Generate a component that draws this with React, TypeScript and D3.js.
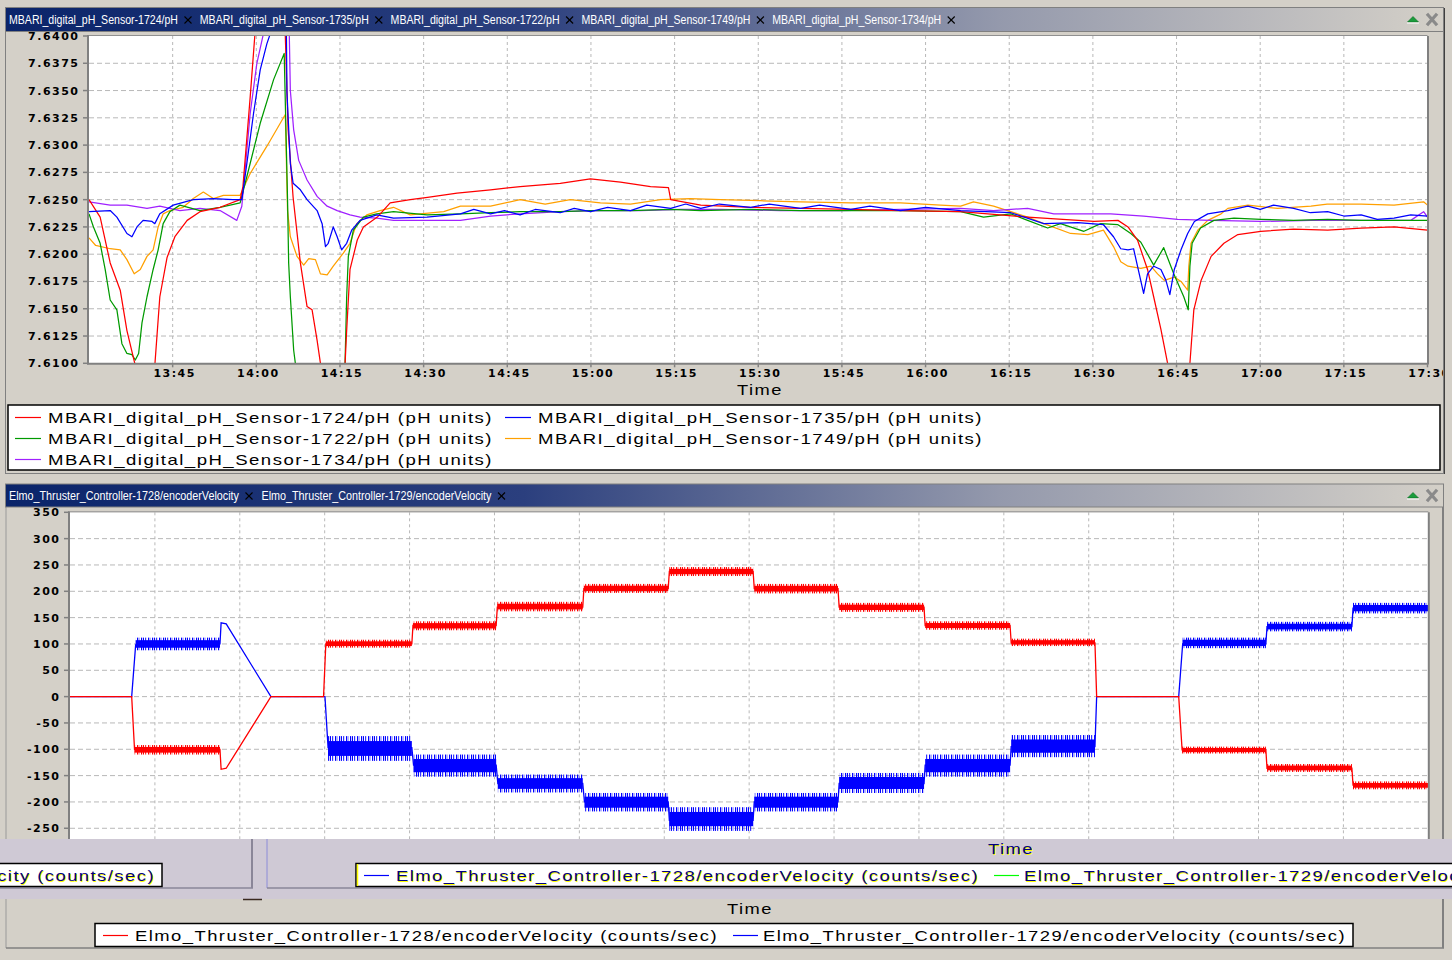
import React from 'react';
import * as d3 from 'd3';

// ---------------------------------------------------------------- data
const START = '13:30'; // left edge of both time axes
const SPAN = 240; // minutes on screen

const phTabs = [
  'MBARI_digital_pH_Sensor-1724/pH',
  'MBARI_digital_pH_Sensor-1735/pH',
  'MBARI_digital_pH_Sensor-1722/pH',
  'MBARI_digital_pH_Sensor-1749/pH',
  'MBARI_digital_pH_Sensor-1734/pH',
];
const velTabs = [
  'Elmo_Thruster_Controller-1728/encoderVelocity',
  'Elmo_Thruster_Controller-1729/encoderVelocity',
];

const phTicks = [7.61, 7.6125, 7.615, 7.6175, 7.62, 7.6225, 7.625, 7.6275, 7.63, 7.6325, 7.635, 7.6375, 7.64];
const velTicks = [-250, -200, -150, -100, -50, 0, 50, 100, 150, 200, 250, 300, 350];

// [minutes after START, pH]
const ph1724: [number, number][] = [
  [0, 7.625], [2, 7.6234], [3.8, 7.6192], [5.6, 7.6167], [6.8, 7.613], [8.3, 7.6098], [10, 7.607], [11.8, 7.6098],
  [12.7, 7.6161], [14, 7.6197], [15.4, 7.6216], [17.6, 7.6231], [19.9, 7.6239], [23.5, 7.6243], [27.1, 7.625],
  [27.6, 7.6262], [28.9, 7.6344], [29.8, 7.6405], [32.5, 7.645], [35.2, 7.64], [35.7, 7.6314], [36.6, 7.6252],
  [37.9, 7.6192], [39.1, 7.6152], [40, 7.6149], [40.9, 7.6121], [41.5, 7.61], [43.6, 7.606], [45.9, 7.6098],
  [46.2, 7.613], [46.8, 7.6186], [48.1, 7.6213], [49.2, 7.6225], [51.7, 7.6234], [54, 7.6247], [57.6, 7.625],
  [60.7, 7.6252], [66, 7.6256], [72, 7.6259], [77.3, 7.6262], [84.5, 7.6265], [89.9, 7.6269], [95.3, 7.6266],
  [100.7, 7.6262], [103.9, 7.6261], [104.3, 7.625], [109.7, 7.6245], [118.6, 7.6243], [127.6, 7.6242],
  [136.6, 7.6241], [145.5, 7.624], [156.3, 7.6239], [168.3, 7.6234], [180.2, 7.623], [184.5, 7.6231],
  [186.3, 7.6225], [188, 7.6213], [189.8, 7.6186], [190.9, 7.6161], [192.2, 7.6131], [193.4, 7.61], [195.4, 7.606],
  [197.4, 7.61], [198.1, 7.6149], [199.4, 7.6176], [201.2, 7.6198], [203.5, 7.621], [206, 7.6218], [210.1, 7.6221],
  [216, 7.6223], [222.1, 7.6222], [228.1, 7.6224], [234, 7.6225], [240, 7.6222],
];
const ph1735: [number, number][] = [
  [0, 7.6239], [3.8, 7.624], [5, 7.6234], [6.8, 7.6219], [7.7, 7.6216], [8.6, 7.6225], [9.7, 7.6231], [11.3, 7.623],
  [11.8, 7.6228], [12.7, 7.6237], [15.1, 7.6245], [18.7, 7.625], [22.3, 7.6251], [25.8, 7.625], [27.4, 7.625],
  [28.3, 7.6283], [29.5, 7.6329], [30.7, 7.6369], [31.9, 7.6393], [32.7, 7.6405], [33.9, 7.642], [35.4, 7.64],
  [35.5, 7.6348], [36.1, 7.6283], [36.6, 7.6265], [37.9, 7.6259], [39.1, 7.625], [40.9, 7.624], [41.8, 7.6228],
  [42.4, 7.6207], [42.9, 7.621], [43.8, 7.6225], [44.5, 7.6216], [45.3, 7.6204], [46.2, 7.621], [47.1, 7.6222],
  [48.6, 7.6231], [51.6, 7.6236], [54.6, 7.6233], [60.6, 7.6234], [66.6, 7.6237], [69, 7.6241], [72, 7.6237],
  [74.5, 7.624], [77.3, 7.6236], [80, 7.6241], [84.5, 7.6238], [87, 7.6242], [89.9, 7.6239], [93, 7.6243],
  [97.1, 7.624], [100, 7.6245], [104.3, 7.6242], [107, 7.6246], [109.7, 7.6242], [113, 7.6246], [118.6, 7.6243],
  [122, 7.6246], [127.6, 7.6242], [131, 7.6245], [136.6, 7.6241], [140, 7.6244], [145.5, 7.624], [150, 7.6243],
  [156.3, 7.624], [165.3, 7.6238], [171.2, 7.6228],
  [177.3, 7.6229], [181.9, 7.6227], [183.7, 7.6216], [185, 7.6205], [186.3, 7.6204], [187.3, 7.6205], [188, 7.6189],
  [189.1, 7.6164], [189.8, 7.6182], [190.9, 7.6189], [192.2, 7.6186], [193.1, 7.6176], [193.8, 7.6163],
  [194.6, 7.6186], [195.8, 7.6204], [197, 7.6219], [198.2, 7.623], [200.6, 7.6237], [204.2, 7.624], [207.8, 7.6244],
  [210, 7.6241], [212.4, 7.6245], [216, 7.6242], [219, 7.6238], [222.1, 7.6239], [225, 7.6235], [228.1, 7.6236],
  [231, 7.6232], [234, 7.6233], [237, 7.6236], [240, 7.6235],
];
const ph1722: [number, number][] = [
  [0, 7.6237], [0.8, 7.6225], [2, 7.621], [2.9, 7.6186], [3.8, 7.6158], [5, 7.6149], [5.9, 7.6118], [6.8, 7.6109],
  [7.7, 7.6108], [8.3, 7.6103], [8.9, 7.6109], [9.5, 7.6137], [10.4, 7.6161], [11.5, 7.6186], [12.4, 7.6204],
  [13.3, 7.6228], [14.5, 7.6239], [16.3, 7.6245], [19.9, 7.624], [23.5, 7.6243], [27.1, 7.6247], [28.3, 7.6271],
  [30.7, 7.632], [33.1, 7.636], [35, 7.6384], [35.6, 7.625], [35.8, 7.6192], [36.1, 7.6161], [36.7, 7.6112],
  [37, 7.61], [41.4, 7.606], [45.9, 7.6098], [46.2, 7.6161], [46.5, 7.6198], [47.4, 7.6222], [49.2, 7.6234],
  [51.6, 7.6237], [54.6, 7.6239], [60.6, 7.6236], [66.6, 7.6237], [72, 7.6238], [77.3, 7.6239], [84.5, 7.6239],
  [89.9, 7.624], [97.1, 7.624], [104.3, 7.6241], [109.7, 7.624], [118.6, 7.6241], [127.6, 7.624], [136.6, 7.624],
  [145.5, 7.624], [156.3, 7.6239], [160.4, 7.6234], [165.3, 7.6237], [168.3, 7.6231], [171.9, 7.6224],
  [174.2, 7.6228], [178.4, 7.6221], [181.4, 7.6228], [184.5, 7.6227], [186.8, 7.6219], [188.6, 7.6211],
  [190.9, 7.619], [192.7, 7.6206], [194.5, 7.6182], [196.3, 7.6161], [197.1, 7.6149], [197.4, 7.6189],
  [197.8, 7.621], [199.3, 7.6224], [201.7, 7.6231], [205.3, 7.6233], [210.1, 7.6232], [216, 7.6231],
  [222.1, 7.6232], [228.1, 7.6231], [234, 7.6231], [240, 7.6231],
];
const ph1749: [number, number][] = [
  [0, 7.6215], [1.2, 7.6208], [3.8, 7.6205], [5.6, 7.6204], [6.8, 7.6195], [8.1, 7.6182], [9.2, 7.6186],
  [10.4, 7.6198], [11.5, 7.6204], [12.4, 7.6225], [13.3, 7.6237], [14.5, 7.624], [16.9, 7.6243], [18.7, 7.6251],
  [20.5, 7.6257], [22.3, 7.6251], [24.1, 7.6254], [27.1, 7.6254], [28.9, 7.6274], [31.9, 7.6299], [35.2, 7.6328],
  [35.6, 7.624], [36.1, 7.6216], [37.3, 7.6198], [38.5, 7.619], [39.4, 7.6196], [40.6, 7.6195], [41.5, 7.6182],
  [42.7, 7.6181], [43.8, 7.6189], [45.6, 7.6201], [46.8, 7.621], [48, 7.6228], [49.8, 7.6236], [52.2, 7.624],
  [54.6, 7.6243], [57.6, 7.6236], [63.6, 7.6239], [66.6, 7.6244], [72, 7.6244], [77.3, 7.625], [81.8, 7.6246],
  [86.3, 7.625], [91.7, 7.6247], [97.1, 7.6246], [102.5, 7.625], [107.8, 7.6251], [113.2, 7.625], [120.4, 7.6249],
  [127.6, 7.6248], [136.6, 7.6247], [145.5, 7.6247], [152.7, 7.6245], [156.3, 7.6244], [158.6, 7.6248],
  [162.2, 7.6244], [168.3, 7.6234], [171.2, 7.6228], [176, 7.6219], [179.1, 7.6218], [181.9, 7.6222],
  [183.7, 7.6207], [185, 7.6193], [186.3, 7.6189], [188.6, 7.6187], [190.4, 7.6189], [191.6, 7.6182],
  [192.8, 7.6176], [194.6, 7.6179], [195.8, 7.6175], [197, 7.6167], [197.2, 7.6189], [197.6, 7.621],
  [198.8, 7.6222], [200.6, 7.6231], [203, 7.6237], [204.2, 7.6242], [207.8, 7.6245], [213.1, 7.6242],
  [219.1, 7.6244], [222, 7.6246], [228.1, 7.6246], [234, 7.6245], [239.3, 7.6248], [240, 7.6245],
];
const ph1734: [number, number][] = [
  [0, 7.6248], [3.8, 7.6245], [6.8, 7.6245], [10.4, 7.6242], [12.7, 7.6244], [16.3, 7.624], [19.9, 7.6242],
  [23.5, 7.624], [26.5, 7.6231], [27.4, 7.6244], [28.9, 7.6329], [30.1, 7.6375], [31.4, 7.6405], [33.6, 7.644],
  [35.9, 7.6405], [36.1, 7.635], [36.7, 7.6314], [37.6, 7.6286], [39.1, 7.6268], [40.9, 7.6253], [42.7, 7.6244],
  [44.5, 7.624], [46.8, 7.6236], [48.6, 7.6234], [51.6, 7.6233], [54.6, 7.6231], [60.6, 7.6231], [66.6, 7.6231],
  [72, 7.6235], [77.3, 7.6237], [84.5, 7.6239], [91.7, 7.624], [98.9, 7.624], [106.1, 7.6241], [113.2, 7.6241],
  [124, 7.624], [134.8, 7.624], [145.5, 7.6241], [156.3, 7.6242], [162.2, 7.624], [168.3, 7.6242], [173, 7.6237],
  [179.1, 7.6237], [183.2, 7.6237], [189.1, 7.6235], [195.2, 7.6232], [201.2, 7.6231], [210.1, 7.623],
  [219.1, 7.6231], [228.1, 7.6231], [237, 7.6231], [239.3, 7.6239], [240, 7.6234],
];

// encoder velocity, [minutes after START, counts/sec] (centre line)
const vel1728: [number, number][] = [
  [0, 0], [10.9, 0], [11.4, -100], [26.5, -100], [26.7, -138], [27.6, -136], [35.5, 0], [44.8, 0], [45.2, 100],
  [60.4, 100], [60.6, 135], [75.3, 135], [75.5, 170], [90.6, 170], [90.8, 205], [105.7, 205], [105.9, 238],
  [120.7, 238], [120.9, 205], [135.7, 205], [135.9, 170], [150.9, 170], [151.1, 135], [166.1, 135], [166.3, 102],
  [181.1, 102], [181.4, 0], [195.9, 0], [196.5, -101], [211.3, -101], [211.5, -136], [226.5, -136], [226.7, -168],
  [240, -168],
];
const vel1729: [number, number][] = [
  [0, 0], [10.9, 0], [11.6, 98], [26.5, 100], [26.7, 140], [27.6, 138], [35.5, 0], [45.05, 0], [45.6, -97],
  [60.4, -97], [60.7, -130], [75.3, -130], [75.6, -165], [90.6, -165], [90.9, -200], [105.7, -200], [105.9, -235],
  [120.7, -235], [120.9, -200], [135.7, -200], [135.9, -165], [150.9, -165], [151.1, -130], [166.1, -130],
  [166.3, -95], [181.1, -95], [181.4, 0], [195.9, 0], [196.6, 100], [211.3, 100], [211.5, 133], [226.5, 133],
  [226.7, 168], [240, 168],
];
// noise envelope per plateau: [from, to, low, high]
const vel1728Noise: [number, number, number, number][] = [
  [11.4, 26.5, -110, -92], [45.2, 60.4, 93, 108], [60.6, 75.3, 126, 143], [75.5, 90.6, 162, 180],
  [90.8, 105.7, 197, 214], [105.9, 120.7, 229, 246], [120.9, 135.7, 196, 214], [135.9, 150.9, 161, 178],
  [151.1, 166.1, 127, 143], [166.3, 181.1, 96, 110], [196.5, 211.3, -108, -95], [211.5, 226.5, -143, -128],
  [226.7, 240, -176, -161],
];
const vel1729Noise: [number, number, number, number][] = [
  [11.6, 26.5, 88, 112], [45.6, 60.4, -122, -75], [60.7, 75.3, -152, -110], [75.6, 90.6, -182, -148],
  [90.9, 105.7, -218, -183], [105.9, 120.7, -255, -210], [120.9, 135.7, -218, -183], [135.9, 150.9, -183, -145],
  [151.1, 166.1, -152, -110], [166.3, 181.1, -115, -73], [196.6, 211.3, 92, 112], [211.5, 226.5, 124, 142],
  [226.7, 240, 158, 178],
];

const phSeries = [
  { name: 'MBARI_digital_pH_Sensor-1724/pH (pH units)', color: '#ff0000', data: ph1724 },
  { name: 'MBARI_digital_pH_Sensor-1735/pH (pH units)', color: '#0000ff', data: ph1735 },
  { name: 'MBARI_digital_pH_Sensor-1722/pH (pH units)', color: '#009a00', data: ph1722 },
  { name: 'MBARI_digital_pH_Sensor-1749/pH (pH units)', color: '#ffa000', data: ph1749 },
  { name: 'MBARI_digital_pH_Sensor-1734/pH (pH units)', color: '#a020ff', data: ph1734 },
];
const phDrawOrder = [3, 4, 2, 0, 1];

const velSeries = [
  { key: 'r', name: 'Elmo_Thruster_Controller-1728/encoderVelocity (counts/sec)', color: '#ff0000', ghost: '#0000ff', data: vel1728, noise: vel1728Noise },
  { key: 'b', name: 'Elmo_Thruster_Controller-1729/encoderVelocity (counts/sec)', color: '#0000ff', ghost: '#00ff00', data: vel1729, noise: vel1729Noise },
];

// ---------------------------------------------------------------- helpers
const BG = '#d4d0c8';
const AXIS_FONT = { fontFamily: 'DejaVu Sans, Verdana, sans-serif', fontWeight: 700, fontSize: 11, letterSpacing: 1.5 };
const TEXT_FONT = 'Liberation Sans, Arial, sans-serif';

const [h0, m0] = START.split(':').map(Number);
const base = new Date(2000, 0, 1, h0, m0);
const at = (m: number) => new Date(base.getTime() + m * 60000);

function Cross({ cx, cy }: { cx: number; cy: number }) {
  return (
    <g stroke="#000" strokeWidth={1.1}>
      <line x1={cx - 3.5} y1={cy - 3.5} x2={cx + 3.5} y2={cy + 3.5} />
      <line x1={cx - 3.5} y1={cy + 3.5} x2={cx + 3.5} y2={cy - 3.5} />
    </g>
  );
}

function TabBar({ y, h, tabs, textW, pitch }: { y: number; h: number; tabs: string[]; textW: number; pitch: number }) {
  const cy = y + h / 2;
  return (
    <g>
      <rect x={5.5} y={y} width={1438} height={h} fill="url(#tabGrad)" stroke="#808080" />
      {tabs.map((t, i) => {
        const x = 9 + i * pitch;
        return (
          <g key={t}>
            <text x={x} y={cy + 4} fill="#fff" fontSize={12} fontFamily={TEXT_FONT} textLength={textW} lengthAdjust="spacingAndGlyphs">
              {t}
            </text>
            <Cross cx={x + textW + 10} cy={cy + 0.5} />
          </g>
        );
      })}
      <polygon points={`1407.5,${cy + 2.5} 1413,${cy - 3} 1418.5,${cy + 2.5}`} fill="#1b9c3c" stroke="#0a6a20" strokeWidth={0.6} />
      <line x1={1407} x2={1419} y1={cy + 3.5} y2={cy + 3.5} stroke="#fff" />
      <g stroke="#8a8a8a" strokeWidth={3.2} strokeLinecap="square">
        <line x1={1428} y1={cy - 4.5} x2={1436} y2={cy + 4.5} />
        <line x1={1428} y1={cy + 4.5} x2={1436} y2={cy - 4.5} />
      </g>
    </g>
  );
}

function WideText(props: { x: number; y: number; len: number; fill: string; size?: number; bold?: boolean; children: string }) {
  return (
    <text
      x={props.x}
      y={props.y}
      fill={props.fill}
      fontFamily={TEXT_FONT}
      fontSize={props.size || 15}
      fontWeight={props.bold ? 700 : 400}
      letterSpacing={1.2}
      textLength={props.len}
      lengthAdjust="spacingAndGlyphs"
    >
      {props.children}
    </text>
  );
}

// lower part of the thruster panel ("Time" + legend). Drawn once for real and
// twice more as the screen-glitch ghosts that sit over the plot bottom.
function VelFooter({ ghost }: { ghost: boolean }) {
  const ink = ghost ? '#000080' : '#000';
  const shadow = (el: (dx: number, dy: number, fill: string) => React.ReactNode) =>
    ghost ? (
      <>
        {el(1, 1, '#ffff00')}
        {el(0, 0, ink)}
      </>
    ) : (
      el(0, 0, ink)
    );
  return (
    <g>
      <line x1={6} x2={6} y1={838} y2={948} stroke={ghost ? '#8c8cd8' : '#9a9a9a'} />
      <line x1={1443} x2={1443} y1={838} y2={948} stroke={ghost ? '#8a8698' : '#808080'} strokeWidth={2} />
      <line x1={6} x2={1444} y1={948} y2={948} stroke={ghost ? '#8a8698' : '#808080'} strokeWidth={1.5} />
      {shadow((dx, dy, fill) => (
        <WideText x={727 + dx} y={913.5 + dy} len={46} fill={fill} size={14.5}>
          Time
        </WideText>
      ))}
      <rect x={95} y={923.5} width={1258} height={23} fill="#fff" stroke="#000" strokeWidth={1.5} />
      {ghost && <line x1={96.5} x2={96.5} y1={924} y2={946} stroke="#ffff00" strokeWidth={1.5} />}
      {velSeries.map((s, i) => {
        const lx = i === 0 ? 103 : 733;
        const tx = i === 0 ? 135 : 763;
        return (
          <g key={s.name}>
            <line x1={lx} x2={lx + 25} y1={935.5} y2={935.5} stroke={ghost ? s.ghost : s.color} strokeWidth={1.2} />
            {shadow((dx, dy, fill) => (
              <WideText x={tx + dx} y={941 + dy} len={583} fill={fill}>
                {s.name}
              </WideText>
            ))}
          </g>
        );
      })}
    </g>
  );
}

export default function App() {
  // pH chart scales
  const xTop = d3.scaleTime().domain([at(0), at(SPAN)]).range([89, 1427.5]);
  const yTop = d3.scaleLinear().domain([7.61, 7.64]).range([363.3, 36]);
  // velocity chart scales (bottom of the frame is hidden by the glitch)
  const xBot = d3.scaleTime().domain([at(0), at(SPAN)]).range([70, 1428.3]);
  const yBot = d3.scaleLinear().domain([-300, 350]).range([854.6, 512.3]);

  const timeTicks = xTop.ticks(d3.timeMinute.every(15)!);
  const timeFmt = d3.timeFormat('%H:%M');
  const phLine = d3
    .line<[number, number]>()
    .x((d) => xTop(at(d[0])))
    .y((d) => yTop(d[1]));
  const velLine = d3
    .line<[number, number]>()
    .x((d) => xBot(at(d[0])))
    .y((d) => yBot(d[1]));

  const [tx0, tx1] = xTop.range();
  const [ty1, ty0] = yTop.range();
  const [bx0, bx1] = xBot.range();
  const by0 = yBot(350);
  const by1 = yBot(-300);

  return (
    <div style={{ position: 'absolute', left: 0, top: 0 }}>
      <svg width={1452} height={960} viewBox="0 0 1452 960" style={{ display: 'block', background: BG }}>
        <defs>
          <linearGradient id="tabGrad" gradientUnits="userSpaceOnUse" x1={5} x2={1444} y1={0} y2={0}>
            <stop offset="0" stopColor="#0a246a" />
            <stop offset="0.36" stopColor="#2b3f7e" />
            <stop offset="0.69" stopColor="#9499ac" />
            <stop offset="1" stopColor="#d4d0c8" />
          </linearGradient>
          {/* ragged sample spikes along the edge of each noisy plateau */}
          {velSeries.map((s) => (
            <pattern key={s.key} id={`spikes-${s.key}`} width={11} height={40} patternUnits="userSpaceOnUse">
              <rect x={0} y={0} width={1} height={40} fill={s.color} />
              <rect x={2} y={0} width={1.2} height={40} fill={s.color} opacity={0.8} />
              <rect x={5} y={0} width={1} height={40} fill={s.color} />
              <rect x={6.5} y={0} width={1} height={40} fill={s.color} opacity={0.6} />
              <rect x={9} y={0} width={1.2} height={40} fill={s.color} />
            </pattern>
          ))}
          <clipPath id="topPanel">
            <rect x={0} y={0} width={1443} height={480} />
          </clipPath>
          <clipPath id="topPlot">
            <rect x={tx0} y={ty0} width={tx1 - tx0} height={ty1 - ty0} />
          </clipPath>
          <clipPath id="botPlot">
            <rect x={bx0} y={by0} width={bx1 - bx0} height={by1 - by0} />
          </clipPath>
          <clipPath id="glitch">
            <rect x={0} y={839} width={1452} height={60} />
          </clipPath>
          <clipPath id="below">
            <rect x={0} y={899} width={1452} height={61} />
          </clipPath>
        </defs>

        {/* ---------------- pH panel ---------------- */}
        <rect x={5.5} y={7.5} width={1438} height={466} fill={BG} stroke="#808080" />
        <line x1={1444.5} x2={1444.5} y1={8} y2={474} stroke="#404040" />
        <TabBar y={7.5} h={24} tabs={phTabs} textW={169} pitch={190.8} />

        <g clipPath="url(#topPanel)">
          <rect x={tx0} y={ty0} width={tx1 - tx0} height={ty1 - ty0} fill="#fff" />
          {phTicks.slice(1, -1).map((v) => (
            <line key={v} x1={tx0} x2={tx1} y1={yTop(v)} y2={yTop(v)} stroke="#b8b8b8" strokeDasharray="5 3" />
          ))}
          {timeTicks.slice(1, -1).map((t) => (
            <line key={+t} x1={xTop(t)} x2={xTop(t)} y1={ty0} y2={ty1} stroke="#b8b8b8" strokeDasharray="3 3" />
          ))}
          <g clipPath="url(#topPlot)" fill="none" strokeWidth={1.25} strokeLinejoin="round">
            {phDrawOrder.map((i) => (
              <path key={phSeries[i].name} d={phLine(phSeries[i].data) || ''} stroke={phSeries[i].color} />
            ))}
          </g>
          {/* frame + ticks */}
          <line x1={tx0} x2={tx1} y1={ty0 - 0.5} y2={ty0 - 0.5} stroke="#909090" />
          <line x1={tx1 + 0.5} x2={tx1 + 0.5} y1={ty0} y2={ty1 + 1} stroke="#808080" strokeWidth={2} />
          <line x1={tx0 - 1} x2={tx0 - 1} y1={ty0 - 1} y2={ty1 + 1} stroke="#808080" strokeWidth={2} />
          <line x1={tx0 - 2} x2={tx1 + 1} y1={ty1 + 0.5} y2={ty1 + 0.5} stroke="#808080" strokeWidth={2} />
          {phTicks.map((v) => (
            <g key={v}>
              <line x1={tx0 - 6} x2={tx0 - 1} y1={yTop(v)} y2={yTop(v)} stroke="#808080" strokeWidth={1.5} />
              <text x={79.5} y={yTop(v) + 4} textAnchor="end" fill="#000" {...AXIS_FONT}>
                {v.toFixed(4)}
              </text>
            </g>
          ))}
          {timeTicks.slice(1).map((t) => (
            <g key={+t}>
              <line x1={xTop(t)} x2={xTop(t)} y1={ty1 + 1} y2={ty1 + 4} stroke="#808080" strokeWidth={1.5} />
              <text x={xTop(t) + 2} y={377} textAnchor="middle" fill="#000" {...AXIS_FONT}>
                {timeFmt(t)}
              </text>
            </g>
          ))}
          <WideText x={737} y={395} len={46} fill="#000" size={14.5}>
            Time
          </WideText>
        </g>

        {/* pH legend */}
        <rect x={8} y={405} width={1432} height={65} fill="#fff" stroke="#000" strokeWidth={1.5} />
        {phSeries.map((s, i) => {
          const col = i % 2;
          const row = Math.floor(i / 2);
          const y = 417.5 + row * 21;
          const lx = col === 0 ? 15 : 505;
          const tx = col === 0 ? 48 : 538;
          return (
            <g key={s.name}>
              <line x1={lx} x2={lx + 26} y1={y} y2={y} stroke={s.color} strokeWidth={1.2} />
              <WideText x={tx} y={y + 5.5} len={445} fill="#000">
                {s.name}
              </WideText>
            </g>
          );
        })}

        {/* ---------------- velocity panel ---------------- */}
        <line x1={6} x2={6} y1={484} y2={840} stroke="#9a9a9a" />
        <line x1={1443} x2={1443} y1={484} y2={840} stroke="#808080" strokeWidth={2} />
        <TabBar y={484} h={23} tabs={velTabs} textW={230} pitch={252.5} />

        <rect x={bx0} y={by0} width={bx1 - bx0} height={by1 - by0} fill="#fff" />
        {velTicks.slice(0, -1).map((v) => (
          <line key={v} x1={bx0} x2={bx1} y1={yBot(v)} y2={yBot(v)} stroke="#b8b8b8" strokeDasharray="5 3" />
        ))}
        {xBot
          .ticks(d3.timeMinute.every(15)!)
          .slice(1, -1)
          .map((t) => (
            <line key={+t} x1={xBot(t)} x2={xBot(t)} y1={by0} y2={by1} stroke="#b8b8b8" strokeDasharray="3 3" />
          ))}
        <g clipPath="url(#botPlot)">
          {[1, 0].map((i) => {
            const s = velSeries[i];
            return (
              <g key={s.name}>
                {s.noise.map(([t0, t1, lo, hi]) => {
                  const x0 = xBot(at(t0));
                  const x1 = xBot(at(t1));
                  const yh = yBot(hi);
                  const yl = yBot(lo);
                  const pad = (yl - yh) * 0.2;
                  return (
                    <g key={t0}>
                      <rect x={x0} y={yh} width={x1 - x0} height={yl - yh} fill={`url(#spikes-${s.key})`} />
                      <rect x={x0} y={yh + pad} width={x1 - x0} height={yl - yh - 2 * pad} fill={s.color} />
                    </g>
                  );
                })}
                <path d={velLine(s.data) || ''} fill="none" stroke={s.color} strokeWidth={1.3} />
              </g>
            );
          })}
        </g>
        <line x1={bx0} x2={bx1} y1={by0 - 0.5} y2={by0 - 0.5} stroke="#909090" />
        <line x1={bx1 + 0.5} x2={bx1 + 0.5} y1={by0} y2={by1} stroke="#808080" strokeWidth={2} />
        <line x1={bx0 - 1} x2={bx0 - 1} y1={by0 - 1} y2={by1} stroke="#808080" strokeWidth={2} />
        {velTicks.map((v) => (
          <g key={v}>
            <line x1={bx0 - 6} x2={bx0 - 1} y1={yBot(v)} y2={yBot(v)} stroke="#808080" strokeWidth={1.5} />
            <text x={60.5} y={yBot(v) + 4} textAnchor="end" fill="#000" {...AXIS_FONT}>
              {String(v)}
            </text>
          </g>
        ))}

        {/* screen glitch band over the bottom of the plot */}
        <rect x={0} y={839} width={1452} height={60} fill="#cfc9d5" />
        <g clipPath="url(#glitch)">
          <g transform="translate(261,-60)">
            <VelFooter ghost />
          </g>
          <g transform="translate(-1191,-60)">
            <VelFooter ghost />
          </g>
        </g>
        <line x1={243} x2={262} y1={899.5} y2={899.5} stroke="#3a2a20" strokeWidth={1.5} />

        {/* real footer of the velocity panel */}
        <g clipPath="url(#below)">
          <VelFooter ghost={false} />
        </g>
      </svg>
    </div>
  );
}
